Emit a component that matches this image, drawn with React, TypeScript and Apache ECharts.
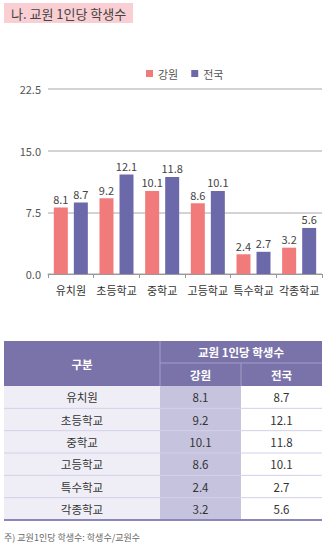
import React, { useEffect, useRef } from "react";
import * as echarts from "echarts";

const categories = ["유치원", "초등학교", "중학교", "고등학교", "특수학교", "각종학교"];
const gangwon = [8.1, 9.2, 10.1, 8.6, 2.4, 3.2];
const national = [8.7, 12.1, 11.8, 10.1, 2.7, 5.6];
const seriesNames = ["강원", "전국"];
const titleText = "나. 교원 1인당 학생수";
const tableHead = ["구분", "교원 1인당 학생수"];
const footnote = "주) 교원1인당 학생수: 학생수/교원수";

const PINK = "#F07B7A";
const PURPLE = "#6C69AB";
const FONT = "'Noto Sans CJK KR', 'Noto Sans', sans-serif";

function buildTable(): any[] {
  const els: any[] = [];
  const x0 = 4, x1 = 160, x2 = 241, x3 = 322;
  const h0 = 341, h1 = 363, h2 = 386;
  const rowH = (520 - h2) / categories.length;
  const headFill = "#7A73A9";
  const headLine = "#A29DC8";
  els.push({ type: "rect", shape: { x: x0, y: h0, width: x3 - x0, height: h2 - h0 }, style: { fill: headFill } });
  els.push({ type: "line", shape: { x1: x1, y1: h0, x2: x1, y2: h2 }, style: { stroke: headLine, lineWidth: 1 } });
  els.push({ type: "line", shape: { x1: x1, y1: h1, x2: x3, y2: h1 }, style: { stroke: headLine, lineWidth: 1 } });
  els.push({ type: "line", shape: { x1: x2, y1: h1, x2: x2, y2: h2 }, style: { stroke: headLine, lineWidth: 1 } });
  const headText = (t: string, cx: number, cy: number) => ({
    type: "text",
    x: cx,
    y: cy,
    style: { text: t, fill: "#ffffff", font: `bold 11.5px ${FONT}`, align: "center", verticalAlign: "middle" },
  });
  els.push(headText(tableHead[0], (x0 + x1) / 2, (h0 + h2) / 2));
  els.push(headText(tableHead[1], (x1 + x3) / 2, (h0 + h1) / 2));
  els.push(headText(seriesNames[0], (x1 + x2) / 2, (h1 + h2) / 2));
  els.push(headText(seriesNames[1], (x2 + x3) / 2, (h1 + h2) / 2));
  els.push({ type: "rect", shape: { x: x0, y: h2, width: x1 - x0, height: 520 - h2 }, style: { fill: "#EFEEF7" } });
  els.push({ type: "rect", shape: { x: x1, y: h2, width: x2 - x1, height: 520 - h2 }, style: { fill: "#C6C3DE" } });
  els.push({ type: "rect", shape: { x: x2, y: h2, width: x3 - x2, height: 520 - h2 }, style: { fill: "#ffffff" } });
  categories.forEach((c, i) => {
    const y = h2 + i * rowH;
    const cy = y + rowH / 2;
    if (i > 0) {
      els.push({ type: "line", shape: { x1: x0, y1: y, x2: x3, y2: y }, style: { stroke: "#D3D0E8", lineWidth: 1 } });
    }
    const bodyText = (t: string, cx: number) => ({
      type: "text",
      x: cx,
      y: cy,
      style: { text: t, fill: "#333333", font: `11.5px ${FONT}`, align: "center", verticalAlign: "middle" },
    });
    els.push(bodyText(c, (x0 + x1) / 2));
    els.push(bodyText(gangwon[i].toFixed(1), (x1 + x2) / 2));
    els.push(bodyText(national[i].toFixed(1), (x2 + x3) / 2));
  });
  els.push({ type: "line", shape: { x1: x0, y1: 520, x2: x3, y2: 520 }, style: { stroke: "#8C87BA", lineWidth: 2 } });
  return els;
}

export default function App() {
  const ref = useRef<HTMLDivElement>(null);
  useEffect(() => {
    if (!ref.current) return;
    const chart = echarts.init(ref.current, undefined, { renderer: "svg" });
    const labelCfg = { show: true, position: "top", distance: 3, fontSize: 11, color: "#444", fontFamily: FONT };
    chart.setOption({
      animation: false,
      textStyle: { fontFamily: FONT },
      legend: {
        data: seriesNames,
        top: 63,
        left: 141,
        icon: "rect",
        itemWidth: 7,
        itemHeight: 7,
        itemGap: 13,
        textStyle: { fontSize: 11, color: "#555", fontFamily: FONT },
      },
      grid: { left: 48, right: 6, top: 89, height: 185, containLabel: false },
      xAxis: {
        type: "category",
        data: categories,
        axisLine: { lineStyle: { color: "#999", width: 1 } },
        axisTick: { show: true, length: 4, lineStyle: { color: "#999" } },
        axisLabel: { fontSize: 11, color: "#333", margin: 10, fontFamily: FONT, interval: 0 },
      },
      yAxis: {
        type: "value",
        min: 0,
        max: 22.5,
        interval: 7.5,
        axisLine: { show: false },
        axisTick: { show: false },
        axisLabel: { fontSize: 11, color: "#555", margin: 7, fontFamily: FONT, formatter: (v: number) => v.toFixed(1) },
        splitLine: { lineStyle: { color: "#C4C4C4", width: 1.5 } },
      },
      series: [
        { name: seriesNames[0], type: "bar", data: gangwon, barWidth: 14, barGap: "43%", itemStyle: { color: PINK }, label: labelCfg },
        { name: seriesNames[1], type: "bar", data: national, barWidth: 14, barGap: "43%", itemStyle: { color: PURPLE }, label: labelCfg },
      ],
      graphic: [
        { type: "rect", shape: { x: 4, y: 3, width: 129, height: 20 }, style: { fill: "#F9CFD3" } },
        { type: "text", x: 11, y: 13.5, style: { text: titleText, fill: "#444", font: `13px ${FONT}`, verticalAlign: "middle" } },
        ...buildTable(),
        { type: "text", x: 4, y: 537, style: { text: footnote, fill: "#666", font: `9px ${FONT}`, verticalAlign: "middle" } },
      ],
    });
    return () => chart.dispose();
  }, []);
  return <div ref={ref} style={{ position: "absolute", left: 0, top: 0, width: 328, height: 547 }} />;
}
